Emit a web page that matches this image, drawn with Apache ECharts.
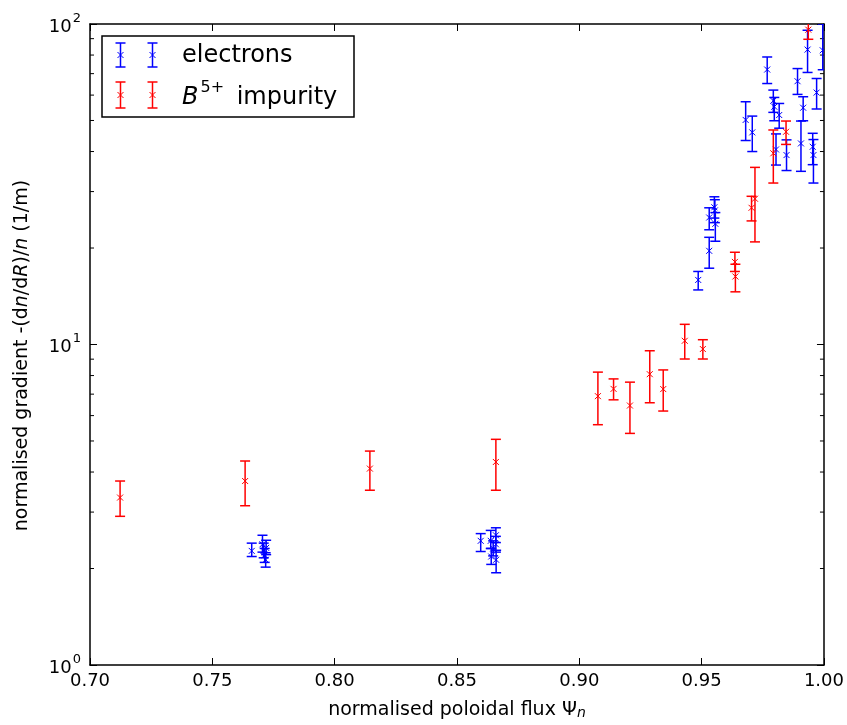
<!DOCTYPE html>
<html>
<head>
<meta charset="utf-8">
<script src="https://cdn.jsdelivr.net/npm/echarts@6/dist/echarts.min.js"></script>
<style>
html,body{margin:0;padding:0;background:#fff;}
#c{width:847px;height:725px;}
</style>
</head>
<body>
<div id="c"></div>
<script>
// ---- data: [x, value, lower, upper] ----
var electronsX = [0.7661,0.7705,0.7710,0.7714,0.7718,0.7720,
  0.8597,0.8638,0.8640,0.8648,0.8659,0.8659,0.8660,
  0.9486,0.9531,0.9531,0.9552,0.9554,0.9556,
  0.9680,0.9707,0.9768,0.9793,0.9797,0.9817,0.9804,0.9847,0.9892,0.9906,0.9915,0.9933,0.9954,0.9957,0.9970,0.9995];
var electronsY = [2.27,2.38,2.27,2.20,2.13,2.32,
  2.44,2.44,2.18,2.31,2.54,2.38,2.13,
  15.9,19.6,24.9,26.8,26.2,23.8,
  50.2,45.9,72.1,57.6,55.2,52.0,40.6,39.0,66.3,42.4,54.8,83.2,41.4,39.0,61.1,82.8];
var electronsLo = [2.18,2.25,2.16,2.09,2.02,2.21,
  2.26,2.31,2.06,2.19,2.41,2.25,1.94,
  14.8,17.3,22.8,24.8,24.0,21.0,
  43.3,40.0,65.2,53.0,49.9,47.3,36.3,34.9,60.3,34.7,49.9,70.6,36.4,31.9,54.3,72.0];
var electronsHi = [2.40,2.54,2.40,2.31,2.24,2.45,
  2.57,2.63,2.31,2.44,2.68,2.52,2.28,
  16.9,21.6,26.7,28.9,28.3,25.8,
  57.2,51.6,78.9,62.2,59.0,56.5,45.4,43.5,72.6,49.8,59.3,95.6,45.6,43.6,67.6,100.0];

var boronX = [0.7123,0.7634,0.8144,0.8659,0.9076,0.9140,0.9207,0.9288,0.9343,0.9431,0.9505,
  0.9636,0.9638,0.9704,0.9718,0.9793,0.9845,0.9936];
var boronY = [3.33,3.75,4.10,4.30,6.90,7.27,6.45,8.08,7.26,10.27,9.68,
  18.1,16.3,26.7,28.5,39.5,46.1,96.0];
var boronLo = [2.91,3.14,3.51,3.51,5.62,6.72,5.28,6.58,6.20,9.01,9.01,
  16.9,14.6,24.3,20.9,31.9,42.1,89.6];
var boronHi = [3.75,4.33,4.65,5.06,8.20,7.81,7.63,9.56,8.33,11.56,10.35,
  19.4,17.8,29.0,35.7,46.7,49.8,104.0];

var xMin = 0.70, xMax = 1.00, xStep = 0.05;
var yMin = 1, yMax = 100;
var yMinorTicks = [2,3,4,5,6,7,8,9,20,30,40,50,60,70,80,90];

function rows(xs, ys, lo, hi) {
  var out = [];
  for (var i = 0; i < xs.length; i++) out.push([xs[i], ys[i], lo[i], hi[i]]);
  return out;
}

var FONT = 'DejaVu Sans';

function errorBarRenderer(color) {
  return function (params, api) {
    var x = api.value(0), y = api.value(1), lo = api.value(2), hi = api.value(3);
    var p = api.coord([x, y]);
    var pl = api.coord([x, lo]);
    var ph = api.coord([x, hi]);
    var cw = 5, m = 3;
    var st = { stroke: color, lineWidth: 1.5 };
    return {
      type: 'group',
      children: [
        { type: 'line', shape: { x1: pl[0], y1: pl[1], x2: ph[0], y2: ph[1] }, style: st },
        { type: 'line', shape: { x1: pl[0] - cw, y1: pl[1], x2: pl[0] + cw, y2: pl[1] }, style: st },
        { type: 'line', shape: { x1: ph[0] - cw, y1: ph[1], x2: ph[0] + cw, y2: ph[1] }, style: st },
        { type: 'line', shape: { x1: p[0] - m, y1: p[1] - m, x2: p[0] + m, y2: p[1] + m }, style: { stroke: color, lineWidth: 1 } },
        { type: 'line', shape: { x1: p[0] - m, y1: p[1] + m, x2: p[0] + m, y2: p[1] - m }, style: { stroke: color, lineWidth: 1 } }
      ]
    };
  };
}

var chart = echarts.init(document.getElementById('c'), null, { renderer: 'canvas' });

var axisLineStyle = { color: '#000', width: 1.5 };

var option = {
  animation: false,
  backgroundColor: '#fff',
  grid: { left: 90, right: 23, top: 24, bottom: 58, containLabel: false },
  xAxis: [{
    type: 'value', min: xMin, max: xMax, interval: xStep, position: 'bottom',
    axisLine: { show: true, lineStyle: axisLineStyle },
    axisTick: { show: true, inside: true, length: 7, lineStyle: { color: '#000', width: 1 } },
    splitLine: { show: false },
    axisLabel: { formatter: function (v) { return v.toFixed(2); }, fontFamily: FONT, fontSize: 18, color: '#000', margin: 7 },
    name: 'normalised poloidal flux {g|Ψ}{sub|n}',
    nameLocation: 'middle', nameGap: 35,
    nameTextStyle: {
      fontFamily: FONT, fontSize: 19, color: '#000',
      rich: {
        g: { fontFamily: FONT, fontSize: 19, color: '#000' },
        sub: { fontFamily: FONT, fontSize: 14, fontStyle: 'italic', color: '#000', verticalAlign: 'bottom', padding: [6, 0, 0, 0] }
      }
    }
  }, {
    type: 'value', min: xMin, max: xMax, interval: xStep, position: 'top',
    axisLine: { show: true, lineStyle: axisLineStyle },
    axisTick: { show: true, inside: true, length: 7, lineStyle: { color: '#000', width: 1 } },
    splitLine: { show: false },
    axisLabel: { show: false }
  }],
  yAxis: [{
    type: 'log', logBase: 10, min: yMin, max: yMax, position: 'left',
    axisLine: { show: true, lineStyle: axisLineStyle },
    axisTick: { show: true, inside: true, length: 7, lineStyle: { color: '#000', width: 1 } },
    splitLine: { show: false },
    axisLabel: {
      formatter: function (v) { return '{b|10}{s|' + Math.round(Math.log10(v)) + '}'; },
      margin: 9,
      rich: {
        b: { fontFamily: FONT, fontSize: 18, color: '#000', lineHeight: 24, verticalAlign: 'bottom' },
        s: { fontFamily: FONT, fontSize: 13, color: '#000', lineHeight: 24, verticalAlign: 'top', padding: [0, 0, 0, 1] }
      }
    },
    name: 'normalised gradient -(d{i|n}/d{i|R})/{i|n} (1/m)',
    nameLocation: 'middle', nameGap: 58, nameRotate: 90,
    nameTextStyle: {
      fontFamily: FONT, fontSize: 19, color: '#000', padding: [0, 22, 0, 0],
      rich: { i: { fontFamily: FONT, fontSize: 19, fontStyle: 'italic', color: '#000' } }
    }
  }, {
    type: 'log', logBase: 10, min: yMin, max: yMax, position: 'right',
    axisLine: { show: true, lineStyle: axisLineStyle },
    axisTick: { show: true, inside: true, length: 7, lineStyle: { color: '#000', width: 1 } },
    splitLine: { show: false },
    axisLabel: { show: false }
  }],
  series: [{
    type: 'custom', name: 'minor', xAxisIndex: 0, yAxisIndex: 0, silent: true,
    data: yMinorTicks.map(function (v) { return [xMin, v]; }),
    renderItem: function (params, api) {
      var v = api.value(1);
      var pl = api.coord([xMin, v]);
      var pr = api.coord([xMax, v]);
      var st = { stroke: '#000', lineWidth: 1 };
      return { type: 'group', children: [
        { type: 'line', shape: { x1: pl[0], y1: pl[1], x2: pl[0] + 4, y2: pl[1] }, style: st },
        { type: 'line', shape: { x1: pr[0], y1: pr[1], x2: pr[0] - 4, y2: pr[1] }, style: st }
      ]};
    }
  }, {
    type: 'custom', name: 'electrons', xAxisIndex: 0, yAxisIndex: 0, clip: true,
    data: rows(electronsX, electronsY, electronsLo, electronsHi),
    renderItem: errorBarRenderer('#0000ff')
  }, {
    type: 'custom', name: 'B5+ impurity', xAxisIndex: 0, yAxisIndex: 0, clip: true,
    data: rows(boronX, boronY, boronLo, boronHi),
    renderItem: errorBarRenderer('#ff0000')
  }],
  graphic: (function () {
    var els = [];
    els.push({ type: 'rect', z: 100, shape: { x: 102, y: 36, width: 252, height: 81 }, style: { fill: '#fff', stroke: '#000', lineWidth: 1.5 } });
    function icon(cx, y1, y2, color) {
      var mid = (y1 + y2) / 2, st = { stroke: color, lineWidth: 1.5 }, st2 = { stroke: color, lineWidth: 1 };
      els.push({ type: 'line', z: 101, shape: { x1: cx, y1: y1, x2: cx, y2: y2 }, style: st });
      els.push({ type: 'line', z: 101, shape: { x1: cx - 5, y1: y1, x2: cx + 5, y2: y1 }, style: st });
      els.push({ type: 'line', z: 101, shape: { x1: cx - 5, y1: y2, x2: cx + 5, y2: y2 }, style: st });
      els.push({ type: 'line', z: 101, shape: { x1: cx - 3, y1: mid - 3, x2: cx + 3, y2: mid + 3 }, style: st2 });
      els.push({ type: 'line', z: 101, shape: { x1: cx - 3, y1: mid + 3, x2: cx + 3, y2: mid - 3 }, style: st2 });
    }
    icon(120.5, 43, 67, '#0000ff');
    icon(152.5, 43, 67, '#0000ff');
    icon(120.5, 82, 108, '#ff0000');
    icon(152.5, 82, 108, '#ff0000');
    els.push({ type: 'text', z: 101, x: 182, y: 56, style: { text: 'electrons', fontFamily: FONT, fontSize: 24, fill: '#000', verticalAlign: 'middle', align: 'left' } });
    els.push({ type: 'text', z: 101, x: 182, y: 95, style: {
      text: '{i|B}{s|5+}{n| impurity}', verticalAlign: 'middle', align: 'left',
      rich: {
        i: { fontFamily: FONT, fontSize: 24, fontStyle: 'italic', fill: '#000', lineHeight: 30, verticalAlign: 'bottom' },
        s: { fontFamily: FONT, fontSize: 16, fill: '#000', lineHeight: 30, verticalAlign: 'top', padding: [0, 5, 0, 2] },
        n: { fontFamily: FONT, fontSize: 24, fill: '#000', lineHeight: 30, verticalAlign: 'bottom' }
      }
    } });
    return els;
  })()
};

chart.setOption(option);
</script>
</body>
</html>
